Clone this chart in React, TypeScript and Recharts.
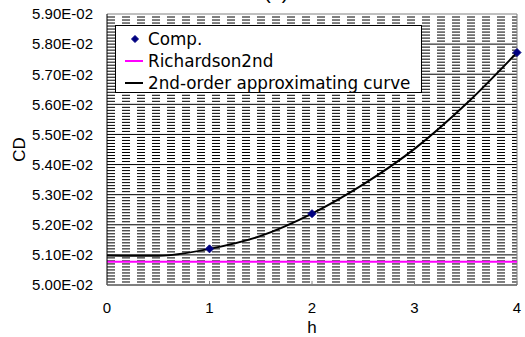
import {
  CartesianGrid,
  ComposedChart,
  Legend,
  Line,
  ReferenceLine,
  Scatter,
  XAxis,
  YAxis,
} from 'recharts';

// h axis ticks and CD axis ticks
const hTicks = [0, 1, 2, 3, 4];
const cdTicks = [0.05, 0.051, 0.052, 0.053, 0.054, 0.055, 0.056, 0.057, 0.058, 0.059];

// computed CD values
const compH = [1, 2, 4];
const compCD = [0.0512, 0.05237, 0.05772];

// Richardson extrapolated value (flat across h)
const richardsonH = [0, 4];
const richardsonCD = [0.05077, 0.05077];

// 2nd-order approximating curve
const curveH = [0, 0.5, 1, 1.5, 2, 2.5, 3, 3.5, 4];
const curveCD = [0.05098, 0.05097, 0.0512, 0.05163, 0.05237, 0.05334, 0.05452, 0.056, 0.05772];

const toRows = (hs: number[], cds: number[]) => hs.map((h, i) => ({ h, cd: cds[i] }));

const compData = toRows(compH, compCD);
const richardsonData = toRows(richardsonH, richardsonCD);
const curveData = toRows(curveH, curveCD);

// dense dashed minor grid every 1E-04, solid major grid every 1E-03
const minorValues: number[] = [];
for (let i = 1; i < 90; i++) {
  if (i % 10 !== 0) minorValues.push(0.05 + i * 0.0001);
}
const majorValues = cdTicks.slice(1, -1);

const NAVY = '#000080';
const MAGENTA = '#ff00ff';

const formatSci = (v: number) => {
  const exp = Math.floor(Math.log10(v) + 1e-9);
  const mant = v / Math.pow(10, exp);
  const sign = exp < 0 ? '-' : '+';
  return `${mant.toFixed(2)}E${sign}${String(Math.abs(exp)).padStart(2, '0')}`;
};

const Diamond = ({ cx, cy, r = 4 }: { cx?: number; cy?: number; r?: number }) => {
  if (cx == null || cy == null) return null;
  return (
    <polygon
      points={`${cx},${cy - r} ${cx + r},${cy} ${cx},${cy + r} ${cx - r},${cy}`}
      fill={NAVY}
      stroke={NAVY}
    />
  );
};

const HTick = (props: any) => {
  const { x, y, payload } = props;
  const axisY = y - 17;
  return (
    <g>
      <line x1={x} x2={x} y1={axisY} y2={axisY - 4} stroke="#808080" />
      <text x={x} y={y} dy="0.71em" textAnchor="middle" fontSize={15} fill="#000">
        {payload.value}
      </text>
    </g>
  );
};

const LegendBox = () => {
  const row = { display: 'flex', alignItems: 'center', height: 22 } as const;
  const mark = { width: 18, height: 22, style: { marginRight: 5, flexShrink: 0 } };
  return (
    <div
      style={{
        width: 307,
        height: 68,
        boxSizing: 'border-box',
        border: '1px solid #000',
        background: '#fff',
        padding: '2px 0 0 9px',
        fontFamily: '"DejaVu Sans", sans-serif',
        fontSize: 16.8,
        color: '#000',
        lineHeight: '22px',
        whiteSpace: 'nowrap',
      }}
    >
      <div style={row}>
        <svg {...mark}>
          <Diamond cx={10} cy={11} r={3.5} />
        </svg>
        Comp.
      </div>
      <div style={row}>
        <svg {...mark}>
          <line x1={0} x2={18} y1={11} y2={11} stroke={MAGENTA} strokeWidth={2} />
        </svg>
        Richardson2nd
      </div>
      <div style={row}>
        <svg {...mark}>
          <line x1={0} x2={18} y1={11} y2={11} stroke="#000" strokeWidth={2} />
        </svg>
        2nd-order approximating curve
      </div>
    </div>
  );
};

export default function App() {
  return (
    <div
      style={{
        position: 'absolute',
        left: 0,
        top: 0,
        width: 525,
        height: 337,
        overflow: 'hidden',
        background: '#fff',
        fontFamily: '"Liberation Sans", Arial, sans-serif',
      }}
    >
      <div style={{ position: 'absolute', top: -19, left: 264, fontSize: 20 }}>(a)</div>
      <ComposedChart width={525} height={337} margin={{ top: 14, right: 8, bottom: 0, left: 0 }}>
        <CartesianGrid
          vertical={false}
          horizontalValues={minorValues}
          stroke="#000"
          strokeDasharray="8 7"
        />
        <CartesianGrid vertical={false} horizontalValues={majorValues} stroke="#000" />
        <XAxis
          type="number"
          dataKey="h"
          domain={[0, 4]}
          ticks={hTicks}
          interval={0}
          tickLine={false}
          tickSize={0}
          tickMargin={17}
          tick={<HTick />}
          axisLine={{ stroke: '#000' }}
          height={52}
          label={{ value: 'h', position: 'insideBottom', offset: 4, fontSize: 17, fill: '#000' }}
        />
        <YAxis
          type="number"
          domain={[0.05, 0.059]}
          ticks={cdTicks}
          interval={0}
          width={107}
          tickLine={false}
          tickSize={0}
          tickMargin={14}
          tick={{ fontSize: 15, fill: '#000' }}
          tickFormatter={formatSci}
          axisLine={{ stroke: '#000' }}
          label={{
            value: 'CD',
            angle: -90,
            position: 'insideLeft',
            offset: 19,
            fontSize: 17,
            fill: '#000',
            style: { textAnchor: 'middle' },
          }}
        />
        <ReferenceLine y={0.059} stroke="#808080" />
        <ReferenceLine x={4} stroke="#808080" />
        <Line
          data={richardsonData}
          dataKey="cd"
          stroke={MAGENTA}
          strokeWidth={2}
          dot={false}
          isAnimationActive={false}
        />
        <Line
          data={curveData}
          dataKey="cd"
          type="monotone"
          stroke="#000"
          strokeWidth={2}
          dot={false}
          isAnimationActive={false}
        />
        <Scatter
          data={compData}
          dataKey="cd"
          shape={(p: any) => <Diamond cx={p.cx} cy={p.cy} r={4} />}
          isAnimationActive={false}
        />
        <Legend
          layout="horizontal"
          verticalAlign="middle"
          align="center"
          content={() => <LegendBox />}
          wrapperStyle={{ position: 'absolute', left: 115, top: 25, width: 'auto' }}
        />
      </ComposedChart>
    </div>
  );
}
